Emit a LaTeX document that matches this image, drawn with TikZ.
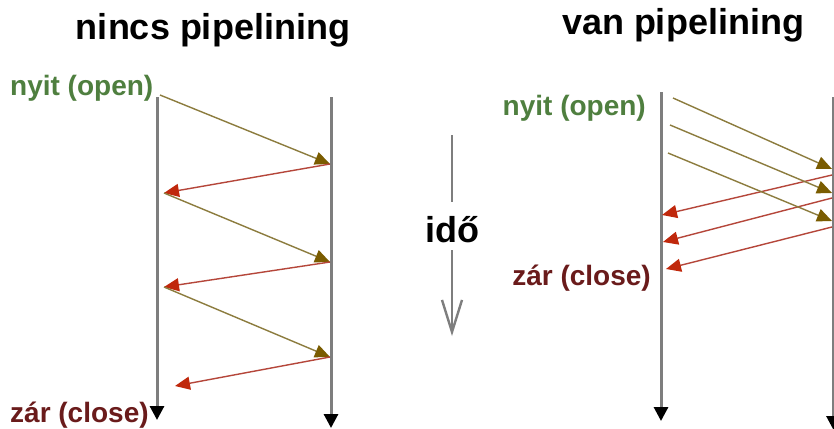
\documentclass[tikz,border=0pt]{standalone}
\usepackage{fontspec}
\setmainfont{Liberation Sans}
\usepackage{xcolor}
\usetikzlibrary{arrows.meta,positioning}

\definecolor{lanegray}{HTML}{7E7E7E}
\definecolor{reqline}{HTML}{8C7C3E}
\definecolor{reqhead}{HTML}{7A5C00}
\definecolor{respline}{HTML}{B5463A}
\definecolor{resphead}{HTML}{C0280C}
\definecolor{opengreen}{HTML}{4F7F3F}
\definecolor{closered}{HTML}{6A1B1B}

\begin{document}
\begin{tikzpicture}[
    x=1pt, y=-1pt,
    lane/.style={draw=lanegray, line width=3pt, -{Triangle[color=black, length=14pt, width=14pt]}},
    req/.style={draw=reqline, line width=1.4pt, -{Triangle[color=reqhead, length=15pt, width=13pt]}},
    resp/.style={draw=respline, line width=1.4pt, -{Triangle[color=resphead, length=15pt, width=13pt]}},
    title/.style={font=\bfseries\fontsize{36}{40}\selectfont, inner sep=0pt, anchor=base},
    tag/.style={font=\bfseries\fontsize{28}{32}\selectfont, inner sep=0pt}
]
    \useasboundingbox (0,0) rectangle (834,428);
    \fill[white] (0,0) rectangle (834,428);
    \clip (0,0) rectangle (834,428);

    % titles
    \node[title] (t1) at (213,40) {nincs pipelining};
    \node[title] (t2) at (683,35) {van pipelining};

    % left: one request at a time
    \coordinate (c1) at (157,97);
    \coordinate (c1e) at (157,420);
    \coordinate (s1) at (331,97);
    \coordinate (s1e) at (331,428);
    \draw[lane] (c1) -- (c1e);
    \draw[lane] (s1) -- (s1e);

    \node[tag, text=opengreen, anchor=base west] (open1) at (10,95) {nyit (open)};
    \node[tag, text=closered, anchor=base west] (close1) at (10,422) {zár (close)};

    \coordinate (q0) at (160,95);
    \coordinate (a1) at (330,164);
    \coordinate (q1) at (164,193);
    \coordinate (a2) at (330,262);
    \coordinate (q2) at (164,287);
    \coordinate (a3) at (330,357);
    \coordinate (q3) at (175,386);
    \draw[req]  (q0) -- (a1);
    \draw[resp] (a1) -- (q1);
    \draw[req]  (q1) -- (a2);
    \draw[resp] (a2) -- (q2);
    \draw[req]  (q2) -- (a3);
    \draw[resp] (a3) -- (q3);

    % time axis
    \node[title] (ido) at (452,242) {idő};
    \coordinate (tt) at (452,135);
    \coordinate (tb) at (452,336);
    \draw[lanegray, line width=2.4pt] (tt) -- (452,202);
    \draw[lanegray, line width=2.4pt, -{Straight Barb[length=32pt, width=20pt]}] (452,250) -- (tb);

    % right: requests sent back to back
    \coordinate (c2) at (661,92);
    \coordinate (c2e) at (661,421);
    \coordinate (s2) at (833.5,97);
    \coordinate (s2e) at (833.5,430);
    \draw[lane] (c2) -- (c2e);
    \draw[lane] (s2) -- (s2e);

    \node[tag, text=opengreen, anchor=base east] (open2) at (646,115) {nyit (open)};
    \node[tag, text=closered, anchor=base east] (close2) at (651,285) {zár (close)};

    \coordinate (p1) at (673,98);
    \coordinate (p2) at (670,125);
    \coordinate (p3) at (668,153);
    \coordinate (g1) at (832,169);
    \coordinate (g2) at (832,193);
    \coordinate (g3) at (832,221);
    \coordinate (h1) at (832,175);
    \coordinate (h2) at (832,198);
    \coordinate (h3) at (832,227);
    \coordinate (b1) at (662,215);
    \coordinate (b2) at (663,242);
    \coordinate (b3) at (666,269);
    \foreach \i in {1,2,3} {
        \draw[req]  (p\i) -- (g\i);
        \draw[resp] (h\i) -- (b\i);
    }
\end{tikzpicture}
\end{document}
